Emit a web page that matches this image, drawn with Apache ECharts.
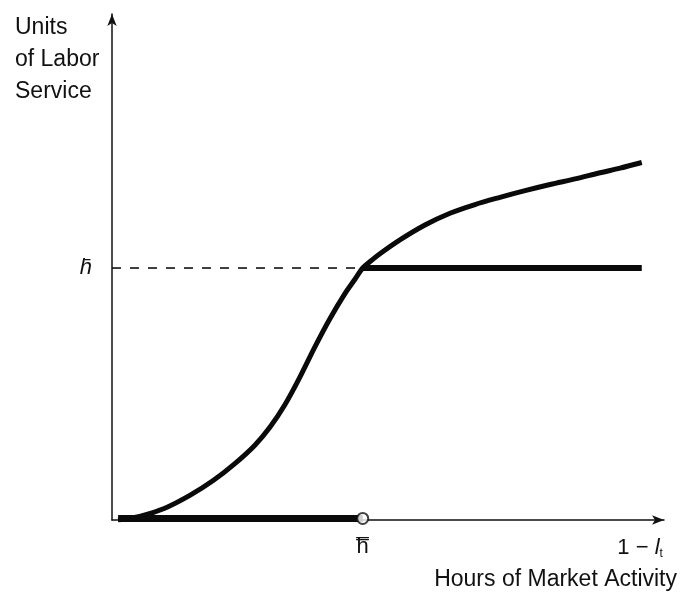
<!DOCTYPE html>
<html>
<head>
<meta charset="utf-8">
<script src="https://cdn.jsdelivr.net/npm/echarts@6/dist/echarts.min.js"></script>
<style>html,body{margin:0;padding:0;background:#fff}#c{width:681px;height:598px}</style>
</head>
<body>
<div id="c"></div>
<script>
// Hours of market activity (x) and units of labor service (y)
const curveX = [1.1, 5.0, 9.5, 14.0, 18.2, 22.1, 25.7, 28.4, 31.1, 33.8, 36.5, 39.2, 41.9, 43.7, 45.1, 46.8, 48.2, 51.8, 56.3, 60.8, 65.3, 69.8, 74.3, 78.8, 83.3, 87.8, 91.4, 95.3];
const curveY = [0, 0.7, 2.3, 4.8, 7.7, 11.0, 14.6, 18.1, 22.5, 27.9, 33.8, 39.3, 44.2, 47.0, 49.2, 50.8, 52.0, 54.7, 57.6, 59.9, 61.6, 63.0, 64.3, 65.5, 66.6, 67.8, 68.7, 69.8];
const hBarX = 45.1;      // h-bar hours
const hBarY = 49.2;      // h-bar units
const startX = 1.1;
const endX = 95.3;       // 1 - l
const xTickValues = [hBarX, 95.0];
const xTickLabels = ['h\u033F', '1 \u2212 {i|l}{s|t}'];
const yTickValues = [hBarY];
const yTickLabels = ['h\u0304'];
const xTitle = 'Hours of Market Activity';
const yTitle = 'Units\nof Labor\nService';

const FONT = '"Liberation Sans", Arial, sans-serif';
const chart = echarts.init(document.getElementById('c'), null, {renderer: 'canvas'});
chart.setOption({
  animation: false,
  backgroundColor: '#fff',
  grid: {left: 112, right: 17, top: 14, bottom: 78},
  xAxis: {
    type: 'value', min: 0, max: 99.3,
    splitLine: {show: false},
    axisTick: {show: false},
    axisLine: {lineStyle: {color: '#111', width: 1.5}, symbol: ['none', 'arrow'], symbolSize: [7, 12]},
    axisLabel: {
      customValues: xTickValues,
      formatter: v => xTickLabels[xTickValues.indexOf(v)],
      margin: 16, color: '#111', fontSize: 22, fontFamily: FONT,
      rich: {
        i: {fontStyle: 'italic', fontSize: 22, fontFamily: FONT, color: '#111'},
        s: {fontSize: 12, fontFamily: FONT, color: '#111', verticalAlign: 'bottom', padding: [12, 0, 0, 0]}
      }
    }
  },
  yAxis: {
    type: 'value', min: 0, max: 98.8,
    splitLine: {show: false},
    axisTick: {show: false},
    axisLine: {lineStyle: {color: '#111', width: 1.5}, symbol: ['none', 'arrow'], symbolSize: [7, 12]},
    axisLabel: {
      customValues: yTickValues,
      formatter: v => yTickLabels[yTickValues.indexOf(v)],
      margin: 20, color: '#111', fontSize: 22, fontStyle: 'italic', fontFamily: FONT
    }
  },
  series: [
    {
      type: 'line', smooth: 0.33, symbol: 'none',
      lineStyle: {color: '#0a0a0a', width: 5},
      data: curveX.map((x, i) => [x, curveY[i]])
    },
    {
      type: 'line', symbol: 'none',
      lineStyle: {color: '#0a0a0a', width: 6},
      data: [[hBarX, hBarY], [endX, hBarY]]
    },
    {
      type: 'line', symbol: 'none',
      lineStyle: {color: '#111', width: 1.6, type: [9, 9]},
      data: [[0, hBarY], [hBarX, hBarY]]
    },
    {
      type: 'line', symbol: 'none',
      lineStyle: {color: '#0a0a0a', width: 7},
      data: [[startX, 0.3], [hBarX, 0.3]]
    },
    {
      type: 'scatter', symbol: 'circle', symbolSize: 11,
      itemStyle: {color: '#fff', borderColor: '#111', borderWidth: 2},
      data: [[hBarX, 0.3]], z: 5
    }
  ],
  graphic: [
    {type: 'text', left: 15, top: 12, style: {text: yTitle, fontSize: 23, lineHeight: 32, fontFamily: FONT, fill: '#111'}},
    {type: 'text', right: 4, top: 568, style: {text: xTitle, fontSize: 23, fontFamily: FONT, fill: '#111'}}
  ]
});
</script>
</body>
</html>
